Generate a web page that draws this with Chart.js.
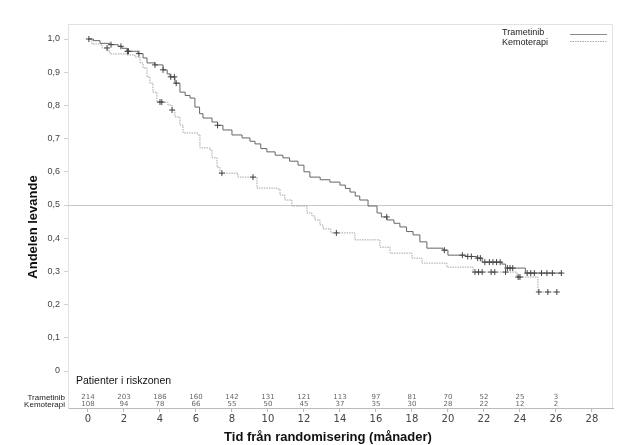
<!DOCTYPE html>
<html><head><meta charset="utf-8">
<script src="https://cdn.jsdelivr.net/npm/chart.js@4.4.1/dist/chart.umd.min.js"></script>
<style>html,body{margin:0;padding:0;background:#fff}#wrap{width:634px;height:445px;position:relative}</style>
</head><body><div id="wrap"><canvas id="c" width="634" height="445" style="width:634px;height:445px"></canvas></div>
<script>
// ---- data ----
const tramTime = [0, 0.3, 0.67, 1.22, 1.67, 1.89, 2.17, 2.78, 3.06, 3.28, 3.72, 4.17, 4.4, 4.56, 4.83, 5.11, 5.4, 5.67, 5.94, 6.2, 6.39, 6.89, 7.2, 7.5, 8.0, 8.56, 9.0, 9.28, 9.6, 9.94, 10.4, 10.83, 11.2, 11.67, 12.0, 12.33, 12.9, 13.44, 14.0, 14.3, 14.56, 14.85, 15.1, 15.56, 16.06, 16.3, 16.61, 17.0, 17.33, 17.7, 18.06, 18.44, 18.83, 19.72, 20.0, 21.0, 21.6, 21.9, 23.0, 23.2, 24.3, 26.3];
const tramSurv = [1.0, 0.995, 0.987, 0.983, 0.978, 0.972, 0.963, 0.956, 0.943, 0.928, 0.922, 0.907, 0.895, 0.886, 0.867, 0.840, 0.830, 0.822, 0.795, 0.775, 0.762, 0.750, 0.740, 0.726, 0.711, 0.702, 0.692, 0.684, 0.670, 0.660, 0.650, 0.642, 0.632, 0.620, 0.600, 0.584, 0.576, 0.569, 0.560, 0.550, 0.539, 0.527, 0.515, 0.497, 0.476, 0.464, 0.455, 0.445, 0.434, 0.420, 0.410, 0.389, 0.370, 0.364, 0.349, 0.345, 0.340, 0.328, 0.322, 0.310, 0.295, 0.295];
const chemoTime = [0, 0.22, 0.78, 1.1, 1.22, 2.17, 2.61, 2.89, 3.06, 3.28, 3.44, 3.61, 3.83, 4.44, 4.67, 4.83, 5.11, 5.28, 6.11, 6.22, 6.78, 6.89, 7.17, 7.33, 8.33, 9.39, 10.5, 10.67, 10.94, 11.33, 12.17, 12.44, 12.61, 12.89, 13.06, 13.5, 14.83, 16.22, 16.78, 18.0, 18.56, 19.94, 21.39, 23.83, 25.0, 26.05];
const chemoSurv = [1.0, 0.985, 0.973, 0.964, 0.955, 0.952, 0.946, 0.928, 0.913, 0.886, 0.867, 0.840, 0.810, 0.801, 0.786, 0.765, 0.741, 0.717, 0.711, 0.672, 0.666, 0.642, 0.614, 0.596, 0.584, 0.551, 0.548, 0.530, 0.515, 0.497, 0.476, 0.467, 0.455, 0.440, 0.428, 0.416, 0.395, 0.373, 0.355, 0.340, 0.325, 0.313, 0.298, 0.283, 0.238, 0.238];
const tramCensor = [0.05, 1.28, 1.83, 2.2, 2.25, 2.83, 3.72, 4.17, 4.6, 4.8, 4.9, 7.2, 16.6, 19.8, 20.8, 21.1, 21.3, 21.65, 21.8, 22.05, 22.3, 22.5, 22.7, 22.9, 23.3, 23.45, 23.6, 24.4, 24.6, 24.8, 25.2, 25.5, 25.8, 26.3];
const chemoCensor = [1.06, 4.0, 4.1, 4.67, 7.44, 9.17, 13.8, 21.5, 21.7, 21.9, 22.4, 22.6, 23.2, 23.9, 24.0, 25.05, 25.55, 26.05];
const riskMonths = [0, 2, 4, 6, 8, 10, 12, 14, 16, 18, 20, 22, 24, 26];
const riskTram = [214, 203, 186, 160, 142, 131, 121, 113, 97, 81, 70, 52, 25, 3];
const riskChemo = [108, 94, 78, 66, 55, 50, 45, 37, 35, 30, 28, 22, 12, 2];
const xTicks = [0, 2, 4, 6, 8, 10, 12, 14, 16, 18, 20, 22, 24, 26, 28];
const yTicks = [0, 0.1, 0.2, 0.3, 0.4, 0.5, 0.6, 0.7, 0.8, 0.9, 1.0];
const refLevel = 0.5;
const seriesNames = ['Trametinib', 'Kemoterapi'];

// ---- helpers ----
function pts(t, s) { return t.map((v, i) => ({ x: v, y: s[i] })); }
function survAt(t, s, time) { let v = s[0]; for (let i = 0; i < t.length; i++) { if (t[i] <= time) v = s[i]; } return v; }
function censorPts(ct, t, s) { return ct.map(c => ({ x: c, y: survAt(t, s, c) })); }

const SANS = '"Liberation Sans", Arial, sans-serif';

const decor = {
  id: 'decor',
  beforeDatasetsDraw(chart) {
    const { ctx, chartArea: a, scales: { y } } = chart;
    ctx.save();
    // frame
    ctx.strokeStyle = '#e2e2e2'; ctx.lineWidth = 1;
    ctx.beginPath();
    ctx.moveTo(a.left + 0.5, a.bottom); ctx.lineTo(a.left + 0.5, a.top + 0.5);
    ctx.lineTo(a.right - 0.5, a.top + 0.5); ctx.lineTo(a.right - 0.5, a.bottom);
    ctx.stroke();
    // reference line
    const yy = Math.round(y.getPixelForValue(refLevel)) + 0.5;
    ctx.strokeStyle = '#c8c8c8';
    ctx.beginPath(); ctx.moveTo(a.left, yy); ctx.lineTo(a.right, yy); ctx.stroke();
    ctx.restore();
  },
  afterDraw(chart) {
    const { ctx, chartArea: a, scales: { x } } = chart;
    ctx.save();
    // risk table
    ctx.fillStyle = '#111'; ctx.font = '10.5px ' + SANS; ctx.textAlign = 'left'; ctx.textBaseline = 'middle';
    ctx.fillText('Patienter i riskzonen', 76, 381);
    ctx.font = '8px ' + SANS; ctx.textAlign = 'right'; ctx.fillStyle = '#222';
    ctx.fillText(seriesNames[0], 65, 398);
    ctx.fillText(seriesNames[1], 65, 405);
    ctx.font = '7px "DejaVu Sans", sans-serif'; ctx.textAlign = 'center'; ctx.fillStyle = '#666';
    riskMonths.forEach((m, i) => {
      const px = x.getPixelForValue(m);
      ctx.fillText(String(riskTram[i]), px, 397.5);
      ctx.fillText(String(riskChemo[i]), px, 404);
    });
    // legend
    ctx.textAlign = 'left'; ctx.font = '9px ' + SANS; ctx.fillStyle = '#222';
    ctx.fillText(seriesNames[0], 502, 33);
    ctx.fillText(seriesNames[1], 502, 43);
    ctx.lineWidth = 1;
    ctx.strokeStyle = '#8a8a8a';
    ctx.beginPath(); ctx.moveTo(570, 34.5); ctx.lineTo(607, 34.5); ctx.stroke();
    ctx.strokeStyle = '#aaaaaa'; ctx.setLineDash([1.5, 1]);
    ctx.beginPath(); ctx.moveTo(570, 41.5); ctx.lineTo(607, 41.5); ctx.stroke();
    ctx.setLineDash([]);
    // axis titles
    ctx.fillStyle = '#111'; ctx.font = 'bold 13px ' + SANS; ctx.textAlign = 'center';
    ctx.fillText('Tid från randomisering (månader)', 328, 437);
    ctx.translate(33, 227); ctx.rotate(-Math.PI / 2);
    ctx.fillText('Andelen levande', 0, 0);
    ctx.restore();
  }
};

new Chart(document.getElementById('c'), {
  data: {
    datasets: [
      { type: 'line', label: seriesNames[1], data: pts(chemoTime, chemoSurv), stepped: true, borderColor: '#a5a5a5', borderWidth: 1, borderDash: [1.5, 1], pointRadius: 0, fill: false, order: 4 },
      { type: 'line', label: seriesNames[0], data: pts(tramTime, tramSurv), stepped: true, borderColor: '#666666', borderWidth: 1, pointRadius: 0, fill: false, order: 3 },
      { type: 'scatter', label: 'c1', data: censorPts(chemoCensor, chemoTime, chemoSurv), pointStyle: 'cross', pointRadius: 3, borderColor: '#444', borderWidth: 1, order: 2 },
      { type: 'scatter', label: 'c0', data: censorPts(tramCensor, tramTime, tramSurv), pointStyle: 'cross', pointRadius: 3, borderColor: '#444', borderWidth: 1, order: 1 }
    ]
  },
  options: {
    responsive: false, animation: false, devicePixelRatio: 1,
    layout: { padding: { top: 24, right: 21, left: 0, bottom: 0 } },
    plugins: { legend: { display: false }, tooltip: { enabled: false } },
    scales: {
      x: {
        type: 'linear', min: -1.11, max: 29.17,
        afterBuildTicks: s => { s.ticks = xTicks.map(v => ({ value: v })); },
        afterFit: s => { s.height = 37; },
        ticks: { autoSkip: false, maxRotation: 0, padding: 1, color: '#444', font: { family: '"DejaVu Sans", sans-serif', size: 10 } },
        grid: { drawOnChartArea: false, drawTicks: true, tickLength: 4, color: '#bbb' },
        border: { color: '#bbb' }
      },
      y: {
        type: 'linear', min: -0.1114, max: 1.0452,
        afterBuildTicks: s => { s.ticks = yTicks.map(v => ({ value: v })); },
        afterFit: s => { s.width = 68; },
        ticks: { padding: 4, color: '#444', font: { family: SANS, size: 9 },
          callback: v => v === 0 ? '0' : v.toFixed(1).replace('.', ',') },
        grid: { drawOnChartArea: false, drawTicks: true, tickLength: 4, color: '#d0d0d0' },
        border: { color: '#e2e2e2' }
      }
    }
  },
  plugins: [decor]
});
</script>
</body></html>
